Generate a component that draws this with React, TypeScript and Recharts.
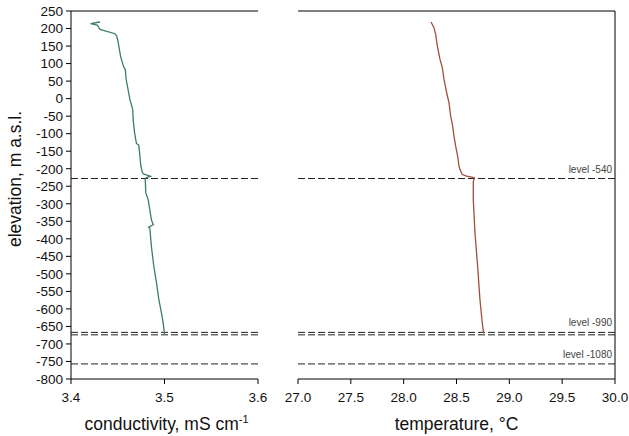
import { LineChart, Line, XAxis, YAxis, ReferenceLine } from "recharts";

// conductivity profile
const condElev = [218.6, 213.8, 210, 197.6, 185.2, 178.6, 159.5, 121.4, 92.9, 83.3, 54.8, 26.2, -2.4, -31, -59.5, -97.6, -128, -132.9, -164.3, -192.9, -212, -215.7, -221.4, -226.2, -231, -269, -289, -345.7, -360, -366.7, -369.5, -422, -479, -526.6, -574, -612, -641, -672];
const conductivity = [3.431, 3.421, 3.428, 3.431, 3.447, 3.449, 3.4505, 3.453, 3.456, 3.458, 3.459, 3.461, 3.463, 3.466, 3.4665, 3.468, 3.47, 3.4725, 3.4737, 3.4747, 3.4765, 3.478, 3.485, 3.48, 3.4794, 3.48, 3.4826, 3.486, 3.488, 3.483, 3.4843, 3.486, 3.4886, 3.4915, 3.494, 3.4968, 3.4986, 3.5];

// temperature profile
const tempElev = [218.6, 202.4, 183.3, 150, 111.9, 88, 54.8, 16.7, -11.9, -50, -78.6, -107, -135.7, -164, -192.9, -202.4, -216.7, -221.4, -224.3, -226.2, -235.7, -289, -383.8, -479, -574, -641, -670];
const temperature = [28.259, 28.287, 28.303, 28.319, 28.344, 28.366, 28.382, 28.407, 28.429, 28.445, 28.464, 28.476, 28.492, 28.511, 28.524, 28.533, 28.555, 28.596, 28.644, 28.669, 28.659, 28.659, 28.675, 28.7, 28.722, 28.744, 28.757];

const levelElev = [-228, -667, -674, -757];
const levelNames = ["level -540", "level -990", "", "level -1080"];

const yTicks = [250, 200, 150, 100, 50, 0, -50, -100, -150, -200, -250, -300, -350, -400, -450, -500, -550, -600, -650, -700, -750, -800];
const condTicks = [3.4, 3.5, 3.6];
const tempTicks = [27, 27.5, 28, 28.5, 29, 29.5, 30];

const condData = condElev.map((z, i) => ({ x: conductivity[i], z }));
const tempData = tempElev.map((z, i) => ({ x: temperature[i], z }));

const FONT = "'Liberation Sans', Arial, sans-serif";
const tickStyle = { fill: "#111", fontSize: 13.5, fontFamily: FONT };

const LevelLabel = (props: any) => {
  const { viewBox, text } = props;
  if (!text || !viewBox) return null;
  return (
    <text x={viewBox.x + viewBox.width - 3} y={viewBox.y - 6} textAnchor="end" fontSize={10} fontFamily={FONT} fill="#444">
      {text}
    </text>
  );
};

const CondTitle = (props: any) => {
  const { viewBox } = props;
  return (
    <text x={viewBox.x + viewBox.width / 2 + 2} y={430} textAnchor="middle" fontSize={17.5} fontFamily={FONT} fill="#111">
      conductivity, mS cm
      <tspan dy={-7} fontSize={11}>-1</tspan>
    </text>
  );
};

const TempTitle = (props: any) => {
  const { viewBox } = props;
  return (
    <text x={viewBox.x + viewBox.width / 2} y={430} textAnchor="middle" fontSize={17.5} fontFamily={FONT} fill="#111">
      temperature, °C
    </text>
  );
};

const ElevTitle = () => {
  const cx = 15;
  const cy = 179;
  return (
    <text x={cx} y={cy} transform={`rotate(-90, ${cx}, ${cy})`} textAnchor="middle" dominantBaseline="central" fontSize={17.5} fontFamily={FONT} fill="#111">
      elevation, m a.s.l.
    </text>
  );
};

function levels(showLabels: boolean) {
  return levelElev.map((v, i) => (
    <ReferenceLine
      key={i}
      y={v}
      stroke="#222"
      strokeDasharray="7 3"
      label={showLabels ? <LevelLabel text={levelNames[i]} /> : undefined}
    />
  ));
}

export default function App() {
  return (
    <div style={{ position: "absolute", left: 0, top: 0, width: 629, height: 436, background: "#fff" }}>
      <div style={{ position: "absolute", left: 0, top: 0 }}>
        <LineChart width={280} height={436} data={condData} margin={{ top: 11, right: 22, bottom: 0, left: 0 }}>
          <XAxis
            dataKey="x"
            type="number"
            domain={[3.4, 3.6]}
            ticks={condTicks}
            tickFormatter={(v: number) => v.toFixed(1)}
            height={57}
            tick={tickStyle}
            tickSize={5}
            tickMargin={8}
            stroke="#000"
            label={<CondTitle />}
          />
          <YAxis
            dataKey="z"
            type="number"
            domain={[-800, 250]}
            ticks={yTicks}
            interval={0}
            width={71}
            tick={tickStyle}
            tickSize={5}
            tickMargin={3}
            stroke="#000"
            label={<ElevTitle />}
          />
          <ReferenceLine y={250} stroke="#000" />
          {levels(false)}
          <Line dataKey="z" stroke="#3B7F5E" strokeWidth={1.3} dot={false} isAnimationActive={false} />
        </LineChart>
      </div>
      <div style={{ position: "absolute", left: 280, top: 0 }}>
        <LineChart width={349} height={436} data={tempData} margin={{ top: 11, right: 14, bottom: 0, left: 18 }}>
          <XAxis
            dataKey="x"
            type="number"
            domain={[27, 30]}
            ticks={tempTicks}
            tickFormatter={(v: number) => v.toFixed(1)}
            interval={0}
            height={57}
            tick={tickStyle}
            tickSize={5}
            tickMargin={8}
            stroke="#000"
            label={<TempTitle />}
          />
          <YAxis dataKey="z" type="number" domain={[-800, 250]} hide />
          <ReferenceLine y={250} stroke="#000" />
          <ReferenceLine x={30} stroke="#000" />
          {levels(true)}
          <Line dataKey="z" stroke="#A0503A" strokeWidth={1.3} dot={false} isAnimationActive={false} />
        </LineChart>
      </div>
    </div>
  );
}
